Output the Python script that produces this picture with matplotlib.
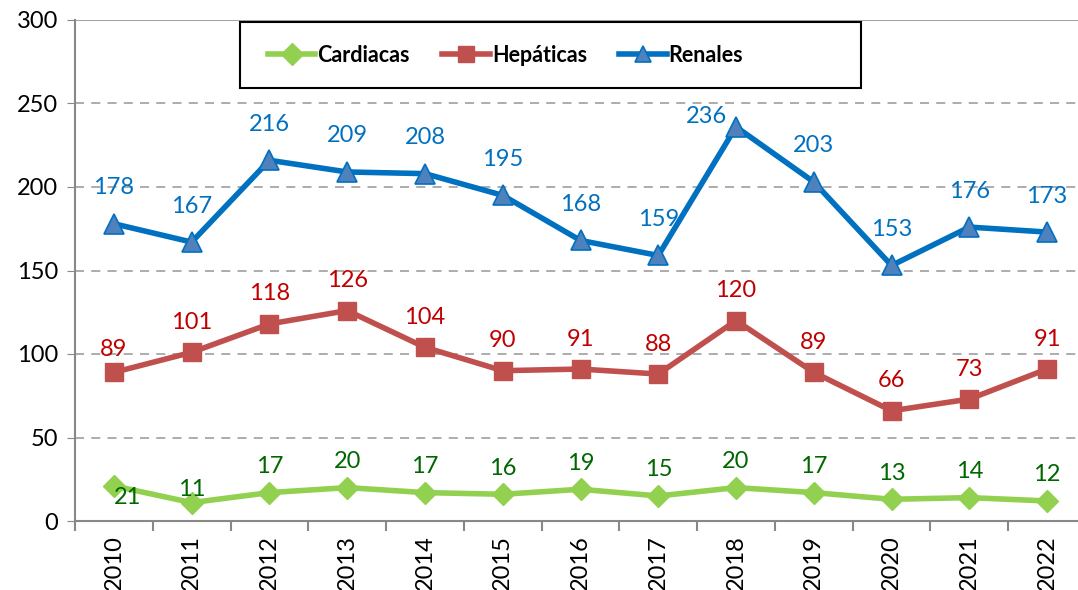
import numpy as np
import matplotlib.pyplot as plt
from matplotlib.ticker import FixedLocator
from matplotlib.patches import Rectangle

years = ['2010', '2011', '2012', '2013', '2014', '2015', '2016',
         '2017', '2018', '2019', '2020', '2021', '2022']
cardiacas = [21, 11, 17, 20, 17, 16, 19, 15, 20, 17, 13, 14, 12]
hepaticas = [89, 101, 118, 126, 104, 90, 91, 88, 120, 89, 66, 73, 91]
renales = [178, 167, 216, 209, 208, 195, 168, 159, 236, 203, 153, 176, 173]

plt.rcParams['font.family'] = ['Lato', 'DejaVu Sans']

fig = plt.figure(figsize=(10.78, 5.9), dpi=100)
ax = fig.add_axes([75 / 1078, 1 - 521 / 590, 1011 / 1078, 501 / 590])

x = np.arange(len(years))

ax.plot(x, cardiacas, color='#92D050', lw=4, marker='D', ms=11,
        mfc='#92D050', mec='#92D050', label='Cardiacas', zorder=3)
ax.plot(x, hepaticas, color='#C0504D', lw=4, marker='s', ms=13,
        mfc='#C0504D', mec='#C0504D', label='Hepáticas', zorder=3)
ax.plot(x, renales, color='#0070C0', lw=4, marker='^', ms=15,
        mfc='#4F81BD', mec='#0070C0', mew=1.2, label='Renales', zorder=3)

# label offsets (pixels)
for i, v in enumerate(renales):
    off = (-30, 10) if i == 8 else (0, 36)
    ax.annotate(str(v), (x[i], v), xytext=off, textcoords='offset pixels',
                ha='center', va='center', fontsize=17, color='#0070C0', zorder=4)
for i, v in enumerate(hepaticas):
    off = (0, 23) if i == 0 else (0, 30)
    ax.annotate(str(v), (x[i], v), xytext=off, textcoords='offset pixels',
                ha='center', va='center', fontsize=17, color='#C00000', zorder=4)
for i, v in enumerate(cardiacas):
    off = (14, -12) if i == 0 else ((0, 13) if i == 1 else (0, 26))
    ax.annotate(str(v), (x[i], v), xytext=off, textcoords='offset pixels',
                ha='center', va='center', fontsize=17, color='#006600', zorder=4)

ax.set_xlim(-0.5, len(years) - 0.5)
ax.set_ylim(0, 300)
ax.set_yticks(range(0, 301, 50))
ax.tick_params(axis='y', labelsize=17, length=6, color='#888888', pad=6)
ax.set_xticks(x)
ax.set_xticklabels(years, rotation=90, fontsize=17)
ax.tick_params(axis='x', length=0, pad=10)
ax.xaxis.set_minor_locator(FixedLocator(np.arange(-0.5, len(years), 1)))
ax.tick_params(axis='x', which='minor', length=7, color='#888888', width=1.5)

for yv in range(50, 300, 50):
    ax.axhline(yv, color='#A6A6A6', lw=1.3, ls=(0, (5, 4)), zorder=1)
ax.axhline(300, color='#A6A6A6', lw=1.5, zorder=1)

ax.spines['top'].set_visible(False)
ax.spines['right'].set_visible(False)
ax.spines['left'].set_color('#888888')
ax.spines['left'].set_linewidth(1.5)
ax.spines['bottom'].set_color('#888888')
ax.spines['bottom'].set_linewidth(1.5)

# legend box
fig.add_artist(Rectangle((240 / 1078, 1 - 88 / 590), 621 / 1078, 66 / 590,
                         transform=fig.transFigure, facecolor='white',
                         edgecolor='black', lw=1.5, zorder=4))
handles, labels = ax.get_legend_handles_labels()
leg = fig.legend(handles, labels, loc='center left',
                 bbox_to_anchor=(268 / 1078, 1 - 55 / 590),
                 ncol=3, frameon=False, prop={'weight': 'bold', 'size': 15.5},
                 handlelength=2.2, handletextpad=0.1, borderaxespad=0,
                 borderpad=0, columnspacing=1.5)
leg.set_zorder(5)
for line in leg.get_lines():
    line.set_markersize(11)

fig.savefig('out.png', dpi=100)
